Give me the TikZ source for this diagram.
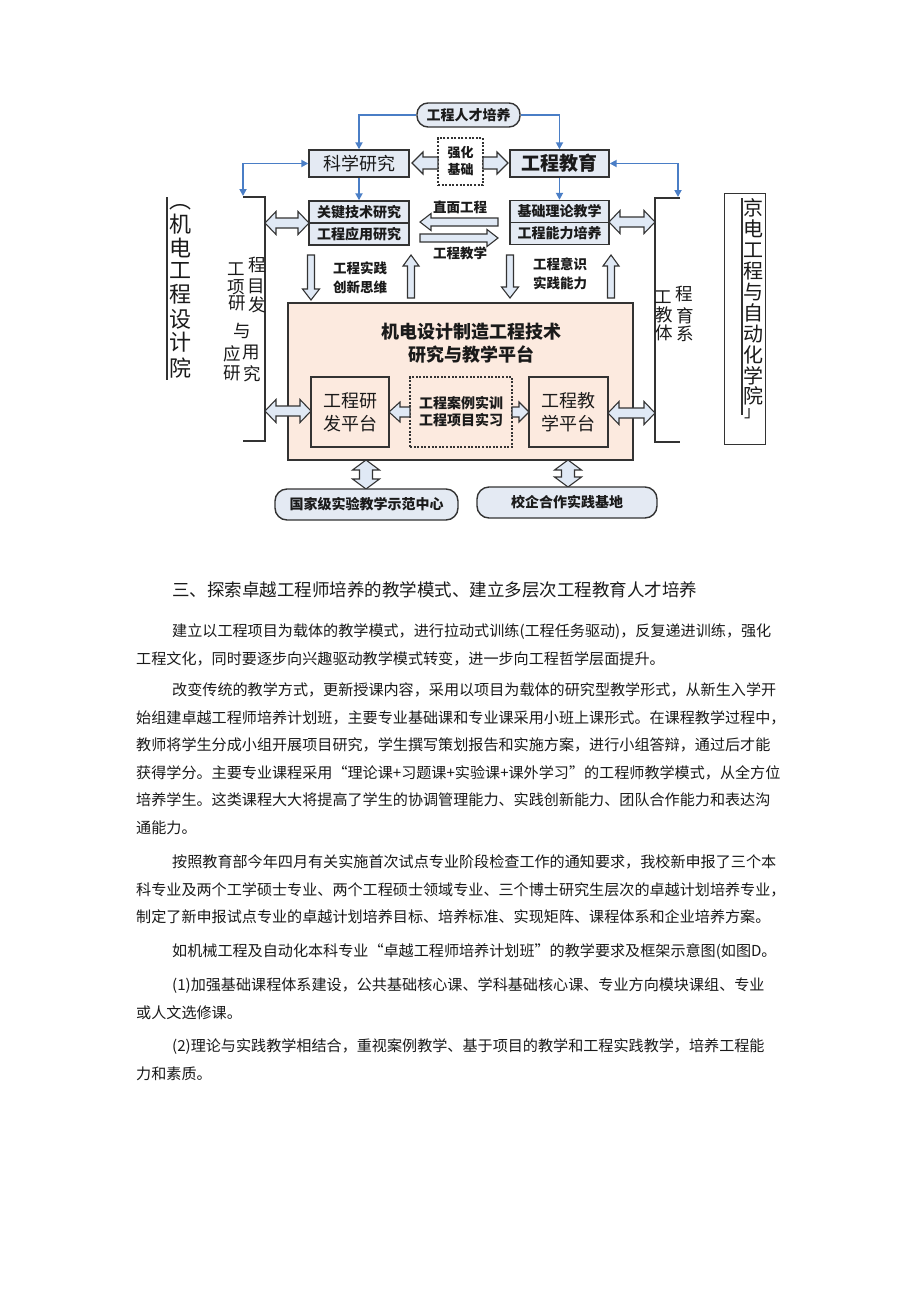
\documentclass[tikz,border=0pt]{standalone}
\usepackage{fontspec}
\setmainfont{Noto Sans CJK SC}
\usetikzlibrary{arrows.meta}
\XeTeXlinebreaklocale "zh"
\XeTeXlinebreakskip=0pt plus 6pt
\definecolor{boxfill}{HTML}{E4EAF3}
\definecolor{platfill}{HTML}{FCEADF}
\definecolor{arrfill}{HTML}{E0E9F5}
\definecolor{bluec}{HTML}{4A7EC6}
\definecolor{edge}{HTML}{333333}
\definecolor{txt}{HTML}{1A1A1A}
\newcommand\fsz[2]{\fontsize{#1}{#2}\selectfont}
\tikzset{
  tbox/.style={draw=edge, line width=1.4pt, fill=boxfill, inner sep=0pt, align=center, text=txt},
  dbox/.style={draw=edge, line width=1.6pt, dash pattern=on 2pt off 1.6pt, inner sep=0pt, align=center, text=txt},
  arrst/.style={draw=edge, line width=1.1pt, fill=arrfill, line join=miter},
  blueline/.style={draw=bluec, line width=1.8pt, -{Triangle[length=7pt,width=7pt]}},
  lbl/.style={inner sep=0pt, align=center, text=txt, font=\fsz{13.5}{19}\bfseries},
  vch/.style={inner sep=0pt, text=txt, font=\fsz{17.5}{18}},
  bigch/.style={inner sep=0pt, text=txt, font=\fsz{22}{22}},
  rch/.style={inner sep=0pt, text=txt, font=\fsz{20}{20}},
  body/.style={anchor=west, inner sep=0pt, text height=13.2pt, text depth=1.8pt, text=txt, font=\fsz{15.1}{18}},
}
% hollow block arrows: tail, tip, cross position, shaft half width, head half width, head length
\newcommand\sarrH[6]{%
  \pgfmathsetmacro\hb{#2>#1 ? #2-#6 : #2+#6}%
  \draw[arrst] (#1,#3-#4) -- (\hb,#3-#4) -- (\hb,#3-#5) -- (#2,#3) -- (\hb,#3+#5) -- (\hb,#3+#4) -- (#1,#3+#4) -- cycle;}
\newcommand\sarrV[6]{%
  \pgfmathsetmacro\hb{#2>#1 ? #2-#6 : #2+#6}%
  \draw[arrst] (#3-#4,#1) -- (#3-#4,\hb) -- (#3-#5,\hb) -- (#3,#2) -- (#3+#5,\hb) -- (#3+#4,\hb) -- (#3+#4,#1) -- cycle;}
\newcommand\darrH[6]{%
  \draw[arrst] (#1,#3) -- (#1+#6,#3-#5) -- (#1+#6,#3-#4) -- (#2-#6,#3-#4) -- (#2-#6,#3-#5) -- (#2,#3) -- (#2-#6,#3+#5) -- (#2-#6,#3+#4) -- (#1+#6,#3+#4) -- (#1+#6,#3+#5) -- cycle;}
\newcommand\darrV[6]{%
  \draw[arrst] (#3,#1) -- (#3-#5,#1+#6) -- (#3-#4,#1+#6) -- (#3-#4,#2-#6) -- (#3-#5,#2-#6) -- (#3,#2) -- (#3+#5,#2-#6) -- (#3+#4,#2-#6) -- (#3+#4,#1+#6) -- (#3+#5,#1+#6) -- cycle;}
\begin{document}
\begin{tikzpicture}[x=1pt,y=-1pt]
\useasboundingbox (0,0) rectangle (920,1301);
\fill[white] (0,0) rectangle (920,1301);

% ---- top boxes
\node[tbox, rounded corners=11, minimum width=103, minimum height=24, font=\fsz{14}{16}\bfseries] (talent) at (468.5,115) {工程人才培养};
\node[tbox, minimum width=100, minimum height=27, font=\fsz{18}{20}] (sci) at (359,163.5) {科学研究};
\node[tbox, minimum width=99, minimum height=27, font=\fsz{19}{20}\bfseries] (edu) at (559.5,163.5) {工程教育};
\node[dbox, fill=white, minimum width=45, minimum height=47, font=\fsz{13}{17}\bfseries] (qh) at (460.5,161.5) {强化\\基础};

\node[tbox, minimum width=100, minimum height=22, font=\fsz{14}{16}\bfseries] (key) at (359,212) {关键技术研究};
\node[tbox, minimum width=100, minimum height=22, font=\fsz{14}{16}\bfseries] (app) at (359,234) {工程应用研究};
\node[tbox, minimum width=99, minimum height=22, font=\fsz{14}{16}\bfseries] (basic) at (559.5,211.5) {基础理论教学};
\node[tbox, minimum width=99, minimum height=22, font=\fsz{14}{16}\bfseries] (ability) at (559.5,233.5) {工程能力培养};

% ---- blue connectors
\coordinate (lb) at (243,196);
\coordinate (rb) at (678,197);
\draw[blueline] (talent.west) -| (sci.north);
\draw[blueline] (talent.east) -| (edu.north);
\draw[blueline] (sci.south) -- (key.north);
\draw[blueline] (edu.south) -- (basic.north);
\draw[blueline, {Triangle[length=7pt,width=7pt]}-{Triangle[length=7pt,width=7pt]}] (sci.west) -| (lb);
\draw[blueline, {Triangle[length=7pt,width=7pt]}-{Triangle[length=7pt,width=7pt]}] (edu.east) -| (rb);

% ---- brackets
\draw[edge, line width=1.6pt] (243,197) -- (265,197) -- (265,441) -- (243,441);
\draw[edge, line width=1.6pt] (680,198) -- (655,198) -- (655,442) -- (680,442);

% ---- hollow arrows near top
\sarrH{438}{412}{163}{6}{11}{11}
\sarrH{483}{508}{163}{6}{11}{11}
\sarrH{498}{420}{222}{4}{8.5}{11}
\sarrH{420}{498}{238}{4}{8.5}{11}
\node[lbl] (l1) at (460,207) {直面工程};
\node[lbl] (l2) at (460,253) {工程教学};
\darrH{265}{309}{223}{5}{11.5}{11}
\darrH{609}{655}{222}{5}{11.5}{11}

% ---- vertical arrows
\sarrV{255}{300}{311}{3.5}{8.5}{11}
\sarrV{298}{255}{411}{3.5}{8}{11}
\sarrV{255}{298}{510}{3.5}{8.5}{11}
\sarrV{298}{255}{611}{3.5}{8}{11}
\node[lbl] (l3) at (360,277.5) {工程实践\\创新思维};
\node[lbl] (l4) at (560,274) {工程意识\\实践能力};

% ---- platform
\node[draw=edge, line width=2.2pt, fill=platfill, minimum width=345, minimum height=157, inner sep=0pt] (plat) at (460.5,381.5) {};
\node[inner sep=0pt, align=center, text=txt, font=\fsz{18}{23}\bfseries] (title) at (471,343.5) {机电设计制造工程技术\\研究与教学平台};
\node[draw=edge, line width=1.5pt, fill=platfill, minimum width=78, minimum height=70, inner sep=0pt, align=center, text=txt, font=\fsz{18}{23}] (rd) at (350,412) {工程研\\发平台};
\node[dbox, fill=platfill, minimum width=102, minimum height=70, font=\fsz{14}{17}\bfseries] (case) at (461,412) {工程案例实训\\工程项目实习};
\node[draw=edge, line width=1.5pt, fill=platfill, minimum width=79, minimum height=70, inner sep=0pt, align=center, text=txt, font=\fsz{18}{23}] (tp) at (568.5,412) {工程教\\学平台};
\sarrH{410}{389}{412}{5}{10}{11}
\sarrH{512}{529}{412}{5}{10}{10}
\darrH{265}{311}{411}{5}{11.5}{11}
\darrH{608}{655}{413}{5}{11.5}{11}

% ---- bottom
\darrV{460}{489}{366}{6.5}{13.5}{10}
\darrV{460}{487}{568}{6.5}{13.5}{10}
\node[tbox, rounded corners=12, minimum width=183, minimum height=31, font=\fsz{14}{16}\bfseries] (lab) at (366.5,504.5) {国家级实验教学示范中心};
\node[tbox, rounded corners=12, minimum width=180, minimum height=31, font=\fsz{14}{16}\bfseries] (base) at (567,502.5) {校企合作实践基地};

% ---- side texts
\foreach \c/\x/\y [count=\i] in {工/236/269,程/257/265,项/236/287,目/256/286,研/237/303,发/257/305,与/242/331,应/232/354,用/251/353,研/232/373,究/252/374}
  \node[vch] (lt\i) at (\x,\y) {\c};
\foreach \c/\x/\y [count=\i] in {工/663/297,程/684/294,教/664/315,育/685/316,体/664/333,系/685/334}
  \node[vch] (rt\i) at (\x,\y) {\c};
\draw[edge, line width=1.5pt] (167,197) -- (167,380);
\foreach \c/\y [count=\i] in {︵/207,机/224,电/248,工/271,程/294,设/319,计/342,院/368}
  \node[bigch] (fl\i) at (180,\y) {\c};
\node[draw=edge, line width=1pt, minimum width=41, minimum height=251, inner sep=0pt] (rbox) at (744.5,318.5) {};
\draw[edge, line width=1.2pt] (742,198) -- (742,415);
\foreach \c/\y [count=\i] in {京/208,电/229,工/250,程/271,与/292,自/313,动/334,化/355,学/376,院/396}
  \node[rch] (fr\i) at (753,\y) {\c};
\node[rch, font=\fsz{16}{16}] (fr11) at (752,414) {」};

% ---- body text
\node[anchor=west, inner sep=0pt, text height=15.5pt, text depth=2pt, text=txt, font=\fsz{17.5}{20}] (head) at (172,590) {\hbox to 534pt{三、探索卓越工程师培养的教学模式、建立多层次工程教育人才培养}};

\node[body] (p1a) at (172,631) {\hbox to 614pt{建立以工程项目为载体的教学模式，进行拉动式训练(工程任务驱动)，反复递进训练，强化}};
\node[body] (p1b) at (136,659) {工程文化，同时要逐步向兴趣驱动教学模式转变，进一步向工程哲学层面提升。};

\node[body] (p2a) at (172,690) {\hbox to 614pt{改变传统的教学方式，更新授课内容，采用以项目为载体的研究型教学形式，从新生入学开}};
\node[body] (p2b) at (136,717.5) {\hbox to 650pt{始组建卓越工程师培养计划班，主要专业基础课和专业课采用小班上课形式。在课程教学过程中，}};
\node[body] (p2c) at (136,745) {\hbox to 650pt{教师将学生分成小组开展项目研究，学生撰写策划报告和实施方案，进行小组答辩，通过后才能}};
\node[body] (p2d) at (136,772.5) {\hbox to 650pt{获得学分。主要专业课程采用“理论课+习题课+实验课+课外学习”的工程师教学模式，从全方位}};
\node[body] (p2e) at (136,800) {\hbox to 650pt{培养学生。这类课程大大将提高了学生的协调管理能力、实践创新能力、团队合作能力和表达沟}};
\node[body] (p2f) at (136,827.5) {通能力。};

\node[body] (p3a) at (172,862) {\hbox to 614pt{按照教育部今年四月有关实施首次试点专业阶段检查工作的通知要求，我校新申报了三个本}};
\node[body] (p3b) at (136,889.5) {\hbox to 650pt{科专业及两个工学硕士专业、两个工程硕士领域专业、三个博士研究生层次的卓越计划培养专业，}};
\node[body] (p3c) at (136,917) {制定了新申报试点专业的卓越计划培养目标、培养标准、实现矩阵、课程体系和企业培养方案。};

\node[body] (p4a) at (172,951) {\hbox to 612pt{如机械工程及自动化本科专业“卓越工程师培养计划班”的教学要求及框架示意图(如图D。}};

\node[body] (p5a) at (172,985) {\hbox to 614pt{(1)加强基础课程体系建设，公共基础核心课、学科基础核心课、专业方向模块课组、专业}};
\node[body] (p5b) at (136,1012.5) {或人文选修课。};

\node[body] (p6a) at (172,1046) {\hbox to 614pt{(2)理论与实践教学相结合，重视案例教学、基于项目的教学和工程实践教学，培养工程能}};
\node[body] (p6b) at (136,1073.5) {力和素质。};
\end{tikzpicture}
\end{document}
